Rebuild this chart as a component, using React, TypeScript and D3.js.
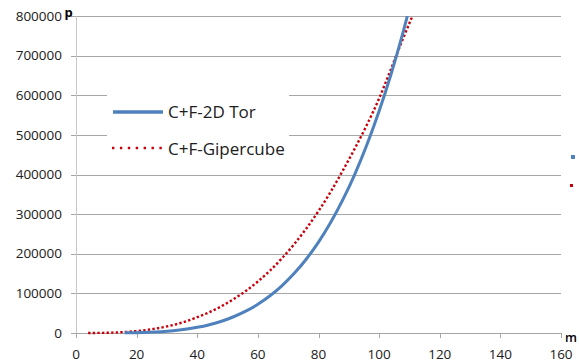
import React, { useEffect, useRef } from "react";
import * as d3 from "d3";

// m values (x axis)
const mValues = [
  4, 8, 12, 16, 20, 24, 28, 32, 36, 40, 44, 48, 52, 56, 60, 64, 68, 72, 76, 80,
  84, 88, 92, 96, 100, 104, 108, 112,
];

// C+F-2D Tor (blue), starts at m = 16
const torValues = [
  null, null, null, 370, 900, 1860, 3440, 5870, 9400, 14300, 21000, 29700,
  41000, 55000, 72600, 94000, 119700, 150500, 186800, 229400, 278800, 335800,
  401200, 475600, 560000, 655000, 762000, 881000,
];

// C+F-Gipercube (red dotted)
const gipercubeValues = [
  40, 310, 1040, 2460, 4900, 8400, 13400, 20000, 28600, 40000, 52500, 67500,
  85500, 106000, 130000, 157500, 189000, 224300, 263800, 307700, 356200,
  409600, 466000, 526000, 592000, 668000, 745000, 818000,
];

const xTicks = [0, 20, 40, 60, 80, 100, 120, 140, 160];
const yTicks = [0, 100000, 200000, 300000, 400000, 500000, 600000, 700000, 800000];

const seriesNames = ["C+F-2D Tor", "C+F-Gipercube"];

const BLUE = "#4F81BD";
const RED = "#C8000A";
const FONT = "'Open Sans', sans-serif";

const Chart: React.FC = () => {
  const svgRef = useRef<SVGSVGElement | null>(null);

  useEffect(() => {
    if (!svgRef.current) return;
    const width = 579;
    const height = 363;
    const svg = d3.select(svgRef.current);
    svg.selectAll("*").remove();
    svg.attr("width", width).attr("height", height);

    const x = d3.scaleLinear().domain([0, 160]).range([76, 561]);
    const y = d3.scaleLinear().domain([0, 800000]).range([333, 16]);

    // gridlines
    svg
      .append("g")
      .selectAll("line")
      .data(yTicks.filter((d) => d > 0))
      .join("line")
      .attr("x1", x(0))
      .attr("x2", x(160))
      .attr("y1", (d) => Math.round(y(d)) + 0.5)
      .attr("y2", (d) => Math.round(y(d)) + 0.5)
      .attr("stroke", "#A6A6A6")
      .attr("stroke-width", 1);

    // y axis
    const yAxis = svg.append("g");
    yAxis
      .append("line")
      .attr("x1", x(0) + 0.5)
      .attr("x2", x(0) + 0.5)
      .attr("y1", y(800000))
      .attr("y2", y(0) + 5)
      .attr("stroke", "#C8C8C8");
    yAxis
      .selectAll("line.tick")
      .data(yTicks)
      .join("line")
      .attr("class", "tick")
      .attr("x1", x(0) - 5)
      .attr("x2", x(0))
      .attr("y1", (d) => Math.round(y(d)) + 0.5)
      .attr("y2", (d) => Math.round(y(d)) + 0.5)
      .attr("stroke", "#A6A6A6");
    yAxis
      .selectAll("text")
      .data(yTicks)
      .join("text")
      .attr("x", 62)
      .attr("y", (d) => y(d))
      .attr("dy", "0.35em")
      .attr("text-anchor", "end")
      .attr("font-family", FONT)
      .attr("font-size", 13.5)
      .attr("fill", "#202020")
      .text((d) => String(d));

    // x axis
    const xAxis = svg.append("g");
    xAxis
      .append("line")
      .attr("x1", x(0))
      .attr("x2", x(160))
      .attr("y1", y(0) + 0.5)
      .attr("y2", y(0) + 0.5)
      .attr("stroke", "#A6A6A6");
    xAxis
      .selectAll("line.tick")
      .data(xTicks)
      .join("line")
      .attr("class", "tick")
      .attr("x1", (d) => Math.round(x(d)) + 0.5)
      .attr("x2", (d) => Math.round(x(d)) + 0.5)
      .attr("y1", y(0))
      .attr("y2", y(0) + 5)
      .attr("stroke", "#A6A6A6");
    xAxis
      .selectAll("text")
      .data(xTicks)
      .join("text")
      .attr("x", (d) => x(d))
      .attr("y", 358.5)
      .attr("text-anchor", "middle")
      .attr("font-family", FONT)
      .attr("font-size", 13.5)
      .attr("fill", "#202020")
      .text((d) => String(d));

    // axis titles
    svg
      .append("text")
      .attr("x", 64.5)
      .attr("y", 16.5)
      .attr("font-family", FONT)
      .attr("font-size", 13)
      .attr("font-weight", 700)
      .attr("fill", "#000")
      .text("p");
    svg
      .append("text")
      .attr("x", 565)
      .attr("y", 342)
      .attr("font-family", FONT)
      .attr("font-size", 12.5)
      .attr("font-weight", 600)
      .attr("fill", "#000")
      .text("m");

    // plot clip
    svg
      .append("clipPath")
      .attr("id", "plot-clip")
      .append("rect")
      .attr("x", x(0))
      .attr("y", y(800000))
      .attr("width", x(160) - x(0))
      .attr("height", y(0) - y(800000) + 3);

    const line = d3
      .line<[number, number | null]>()
      .defined((d) => d[1] !== null)
      .x((d) => x(d[0]))
      .y((d) => y(d[1] as number))
      .curve(d3.curveMonotoneX);

    const plot = svg.append("g").attr("clip-path", "url(#plot-clip)");

    plot
      .append("path")
      .datum(mValues.map((m, i) => [m, gipercubeValues[i]] as [number, number | null]))
      .attr("d", line)
      .attr("fill", "none")
      .attr("stroke", RED)
      .attr("stroke-width", 2.4)
      .attr("stroke-dasharray", "2.4 2.2");

    plot
      .append("path")
      .datum(mValues.map((m, i) => [m, torValues[i]] as [number, number | null]))
      .attr("d", line)
      .attr("fill", "none")
      .attr("stroke", BLUE)
      .attr("stroke-width", 3);

    // legend box
    const legend = svg.append("g");
    legend
      .append("rect")
      .attr("x", 107)
      .attr("y", 82)
      .attr("width", 182)
      .attr("height", 84)
      .attr("fill", "#fff");
    legend
      .append("line")
      .attr("x1", 113)
      .attr("x2", 163)
      .attr("y1", 112)
      .attr("y2", 112)
      .attr("stroke", BLUE)
      .attr("stroke-width", 3.5);
    legend
      .append("line")
      .attr("x1", 112)
      .attr("x2", 163)
      .attr("y1", 148)
      .attr("y2", 148)
      .attr("stroke", RED)
      .attr("stroke-width", 2.4)
      .attr("stroke-dasharray", "2.4 5.5");
    legend
      .selectAll("text")
      .data(seriesNames)
      .join("text")
      .attr("x", 168)
      .attr("y", (_, i) => (i === 0 ? 118 : 154.5))
      .attr("font-family", FONT)
      .attr("font-size", 17)
      .attr("fill", "#202020")
      .text((d) => d);

    // clipped second legend markers at the right edge
    svg
      .append("rect")
      .attr("x", 571)
      .attr("y", 155)
      .attr("width", 4)
      .attr("height", 4)
      .attr("fill", BLUE);
    svg
      .append("rect")
      .attr("x", 570)
      .attr("y", 184)
      .attr("width", 3)
      .attr("height", 3)
      .attr("fill", RED);
  }, []);

  return <svg ref={svgRef} style={{ position: "absolute", left: 0, top: 0 }} />;
};

export default function App() {
  return <Chart />;
}
